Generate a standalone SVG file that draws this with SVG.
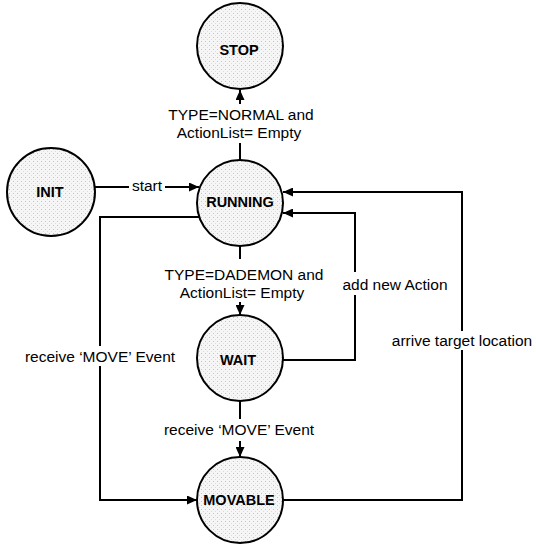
<svg xmlns="http://www.w3.org/2000/svg" width="536" height="545" viewBox="0 0 536 545">
  <style>
    .state { stroke: #000; stroke-width: 2; fill: url(#stipple); }
    .state-label { font-family: "Liberation Sans", Arial, sans-serif; font-weight: bold; font-size: 14.5px; text-anchor: middle; fill: #000; }
    .edge { fill: none; stroke: #000; stroke-width: 2; }
    .edge-label { font-family: "Liberation Sans", Arial, sans-serif; font-size: 15.5px; text-anchor: middle; fill: #000; }
  </style>
  <defs>
    <!-- light halftone fill for the state circles -->
    <pattern id="stipple" width="4" height="4" patternUnits="userSpaceOnUse">
      <rect width="4" height="4" fill="#f6f6f6"/>
      <rect x="1" y="1" width="1" height="1" fill="#c4c4c4"/>
      <rect x="3" y="3" width="1" height="1" fill="#dadada"/>
    </pattern>
    <marker id="arrow" markerWidth="10" markerHeight="9" refX="10" refY="4.5" orient="auto" markerUnits="userSpaceOnUse">
      <path d="M0,0 L10,4.5 L0,9 z" fill="#000"/>
    </marker>
  </defs>

  <rect width="536" height="545" fill="#fff"/>

  <!-- transitions -->
  <g id="connectors">
    <!-- INIT -> RUNNING (start) -->
    <path class="edge" d="M95,187 H129"/>
    <path class="edge" d="M165,187 H199" marker-end="url(#arrow)"/>
    <text class="edge-label" x="147" y="191">start</text>

    <!-- RUNNING -> STOP -->
    <path class="edge" d="M240,160 V143"/>
    <path class="edge" d="M240,104 V90" marker-end="url(#arrow)"/>
    <text class="edge-label" x="241" y="120">TYPE=NORMAL and</text>
    <text class="edge-label" x="239" y="138">ActionList= Empty</text>

    <!-- RUNNING -> WAIT -->
    <path class="edge" d="M240,246 V259"/>
    <path class="edge" d="M240,302 V315" marker-end="url(#arrow)"/>
    <text class="edge-label" x="244" y="280">TYPE=DADEMON and</text>
    <text class="edge-label" x="242" y="298">ActionList= Empty</text>

    <!-- WAIT -> MOVABLE -->
    <path class="edge" d="M240,401 V419"/>
    <path class="edge" d="M240,441 V457" marker-end="url(#arrow)"/>
    <text class="edge-label" x="239" y="435">receive ‘MOVE’ Event</text>

    <!-- WAIT -> RUNNING (add new Action) -->
    <path class="edge" d="M283,360 H355 V295"/>
    <path class="edge" d="M355,272 V213 H283" marker-end="url(#arrow)"/>
    <text class="edge-label" x="395" y="290">add new Action</text>

    <!-- MOVABLE -> RUNNING (arrive target location) -->
    <path class="edge" d="M283,500 H462 V350"/>
    <path class="edge" d="M462,331 V192 H283" marker-end="url(#arrow)"/>
    <text class="edge-label" x="462" y="346">arrive target location</text>

    <!-- RUNNING -> MOVABLE (receive MOVE event) -->
    <path class="edge" d="M199,217 H100 V346"/>
    <path class="edge" d="M100,366 V500 H197" marker-end="url(#arrow)"/>
    <text class="edge-label" x="100" y="362">receive ‘MOVE’ Event</text>
  </g>

  <!-- states -->
  <g id="stop">
    <circle class="state" cx="240" cy="46" r="43"/>
    <text class="state-label" x="239" y="55">STOP</text>
  </g>
  <g id="init">
    <circle class="state" cx="51" cy="192" r="44"/>
    <text class="state-label" x="50" y="197">INIT</text>
  </g>
  <g id="running">
    <circle class="state" cx="240" cy="203" r="43"/>
    <text class="state-label" x="240" y="207">RUNNING</text>
  </g>
  <g id="wait">
    <circle class="state" cx="240" cy="358" r="43"/>
    <text class="state-label" x="238" y="365">WAIT</text>
  </g>
  <g id="movable">
    <circle class="state" cx="240" cy="500" r="43"/>
    <text class="state-label" x="239" y="505">MOVABLE</text>
  </g>
</svg>
